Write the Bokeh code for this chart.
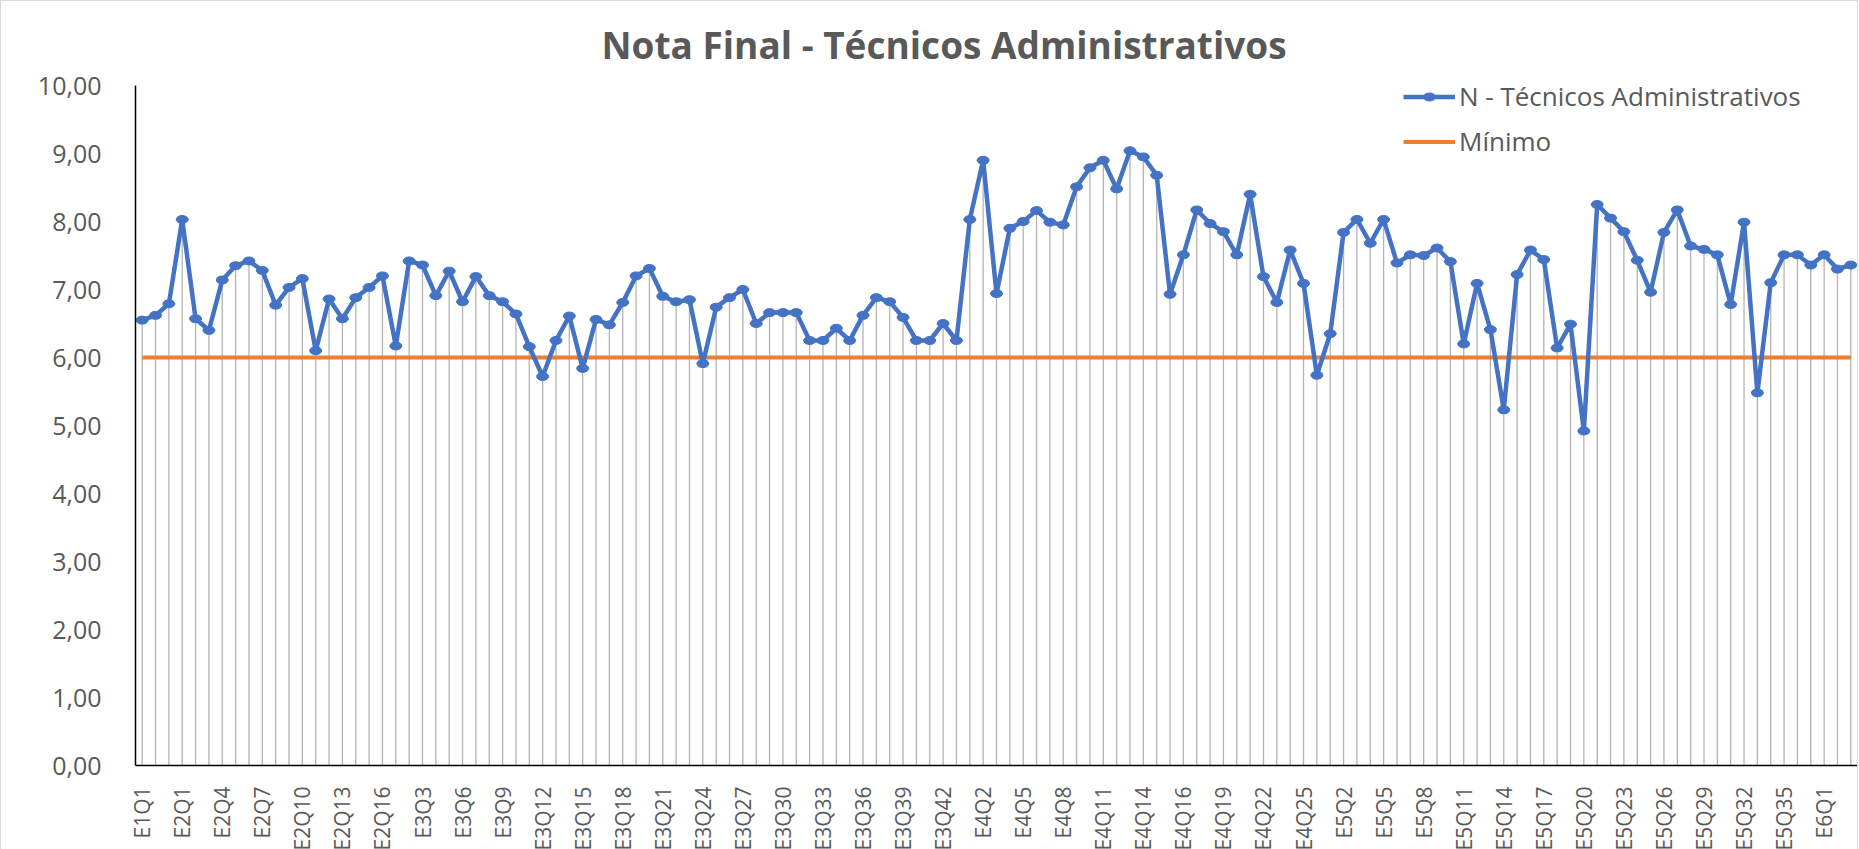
from bokeh.plotting import figure
from bokeh.models import Range1d, FixedTicker, Legend, LegendItem, ColumnDataSource
from bokeh.embed import file_html
from bokeh.resources import INLINE

# ---------------- data ----------------
cat_e1 = [f"E1Q{i}" for i in range(1, 4)]
cat_e2 = [f"E2Q{i}" for i in range(1, 17)]
cat_e3 = [f"E3Q{i}" for i in range(1, 44)]
cat_e4 = [f"E4Q{i}" for i in range(1, 16)] + ["E4Q15A"] + [f"E4Q{i}" for i in range(16, 27)]
cat_e5 = [f"E5Q{i}" for i in range(1, 38)]
cat_e6 = [f"E6Q{i}" for i in range(1, 4)]
categories = cat_e1 + cat_e2 + cat_e3 + cat_e4 + cat_e5 + cat_e6

notas = [
    6.55, 6.62, 6.79, 8.03, 6.57, 6.40, 7.14, 7.35, 7.42, 7.28,
    6.77, 7.03, 7.16, 6.10, 6.86, 6.57, 6.88, 7.03, 7.20, 6.17,
    7.42, 7.36, 6.91, 7.27, 6.82, 7.19, 6.91, 6.82, 6.64, 6.16,
    5.72, 6.25, 6.61, 5.84, 6.56, 6.48, 6.81, 7.20, 7.31, 6.90,
    6.82, 6.85, 5.91, 6.74, 6.88, 7.00, 6.50, 6.66, 6.66, 6.66,
    6.25, 6.25, 6.43, 6.25, 6.62, 6.88, 6.82, 6.59, 6.25, 6.25,
    6.50, 6.25, 8.03, 8.90, 6.94, 7.90, 8.00, 8.16, 7.99, 7.95,
    8.51, 8.79, 8.90, 8.48, 9.04, 8.95, 8.68, 6.93, 7.51, 8.17,
    7.97, 7.85, 7.51, 8.40, 7.19, 6.81, 7.58, 7.09, 5.74, 6.35,
    7.84, 8.03, 7.68, 8.03, 7.39, 7.51, 7.50, 7.61, 7.41, 6.20,
    7.09, 6.41, 5.23, 7.22, 7.58, 7.44, 6.14, 6.49, 4.92, 8.25,
    8.05, 7.85, 7.43, 6.96, 7.84, 8.17, 7.64, 7.59, 7.51, 6.78,
    7.99, 5.48, 7.10, 7.51, 7.51, 7.36, 7.51, 7.30, 7.36,
]
minimo_valor = 6.00
minimo = [minimo_valor] * len(categories)

y_ticks = [0, 1, 2, 3, 4, 5, 6, 7, 8, 9, 10]
y_tick_labels = ["0,00", "1,00", "2,00", "3,00", "4,00", "5,00",
                 "6,00", "7,00", "8,00", "9,00", "10,00"]
label_step = 3
titulo = "Nota Final - Técnicos Administrativos"

# ---------------- figure ----------------
BLUE = "#4472C4"
ORANGE = "#ED7D31"
TXT = "#595959"
FONT = "Open Sans"

FW, FH = 1722, 680
idx = list(range(len(categories)))
src = ColumnDataSource(dict(x=idx, nota=notas, minimo=minimo, zero=[0] * len(idx)))

p = figure(frame_width=FW, frame_height=FH, output_backend="svg", toolbar_location=None,
           x_range=Range1d(-0.5, len(categories) - 0.5), y_range=Range1d(0, 10))
p.min_border_left = 134
p.min_border_right = 0
p.min_border_top = 84
p.min_border_bottom = 82
p.outline_line_color = None
p.xgrid.visible = False
p.ygrid.visible = False
p.styles = {"border": "1px solid #d9d9d9"}

p.title.text = titulo
p.title.text_font = FONT
p.title.text_font_size = "37px"
p.title.text_font_style = "bold"
p.title.text_color = TXT
p.title.align = "left"
p.title.offset = 466
p.title.standoff = 31

# drop lines
p.segment(x0="x", y0="zero", x1="x", y1="nota", source=src, line_color="#b4b4b4", line_width=1.3)

min_r = p.line("x", "minimo", source=src, line_color=ORANGE, line_width=4)
line_r = p.line("x", "nota", source=src, line_color=BLUE, line_width=4.5)
ell_r = p.ellipse(x="x", y="nota", source=src, width=12, height=8, width_units="screen",
                  height_units="screen", fill_color=BLUE, line_color=BLUE)

# axes
ya = p.yaxis[0]
ya.ticker = FixedTicker(ticks=y_ticks)
ya.major_label_overrides = {t: l for t, l in zip(y_ticks, y_tick_labels)}
ya.major_tick_line_color = None
ya.minor_tick_line_color = None
ya.axis_line_color = "black"
ya.axis_line_width = 1.5
ya.major_label_text_font = FONT
ya.major_label_text_font_size = "25px"
ya.major_label_text_color = TXT
ya.major_label_standoff = 28

xa = p.xaxis[0]
xa.ticker = FixedTicker(ticks=idx[::label_step])
xa.major_label_overrides = {i: categories[i] for i in idx[::label_step]}
xa.major_label_orientation = 1.5707963
xa.major_tick_line_color = None
xa.minor_tick_line_color = None
xa.axis_line_color = "black"
xa.axis_line_width = 1.5
xa.major_label_text_font = FONT
xa.major_label_text_font_size = "21px"
xa.major_label_text_color = TXT
xa.major_label_standoff = 15

legend = Legend(items=[
    LegendItem(label="N - Técnicos Administrativos", renderers=[line_r, ell_r]),
    LegendItem(label="Mínimo", renderers=[min_r]),
], location=(1268, 606))
legend.label_text_font = FONT
legend.label_text_font_size = "26px"
legend.label_text_color = TXT
legend.glyph_width = 52
legend.glyph_height = 15
legend.label_height = 26
legend.label_standoff = 4
legend.spacing = 9
legend.padding = 0
legend.margin = 0
legend.border_line_color = None
legend.background_fill_alpha = 0
p.add_layout(legend, "center")

open("out.html", "w").write(file_html(p, INLINE))
